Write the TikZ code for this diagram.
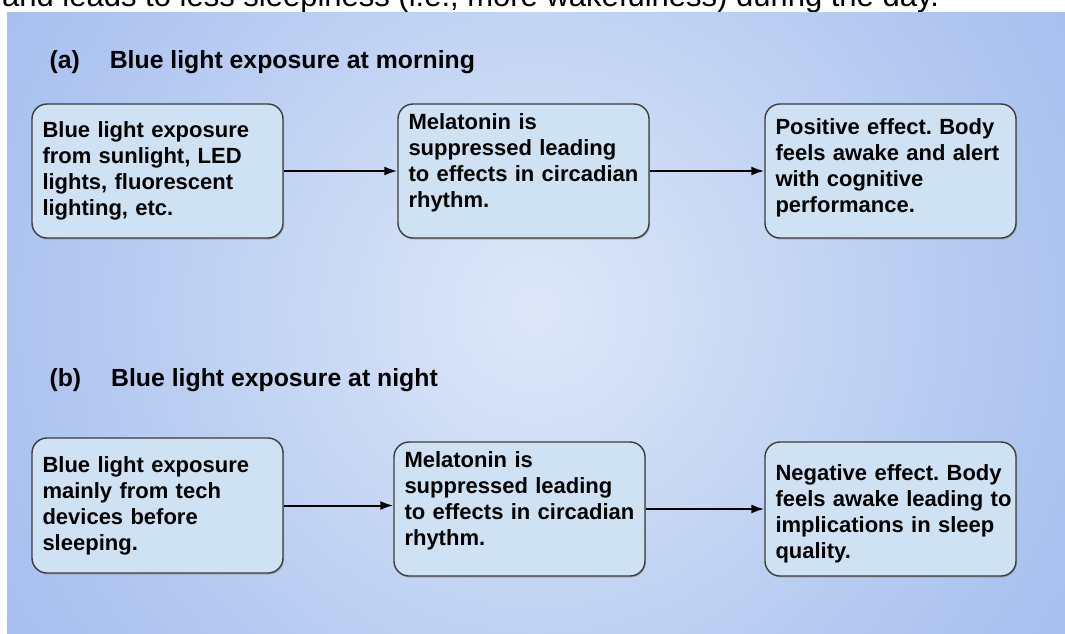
\documentclass[tikz,border=0pt]{standalone}
\usepackage{fontspec}
\setmainfont{Liberation Sans}
\usepackage{xcolor}
\usetikzlibrary{arrows.meta, shadows}

\definecolor{panelEdge}{HTML}{7DA1E6}
\definecolor{panelSide}{HTML}{8EAFEA}
\definecolor{panelMid}{HTML}{ABC3EF}
\definecolor{panelCentre}{HTML}{DDE7F8}
\definecolor{boxFill}{HTML}{CFE2F3}
\definecolor{boxLine}{HTML}{3C3C3C}

\pgfdeclareradialshading{panelglow}{\pgfpoint{0bp}{0bp}}{color(0bp)=(panelCentre); color(22bp)=(panelMid); color(40bp)=(panelSide); color(50bp)=(panelEdge)}

\begin{document}
\frenchspacing
\begin{tikzpicture}[x=1pt, y=-1pt, >={Latex[length=13pt,width=9pt]},
    flowbox/.style={draw=boxLine, line width=1.4pt, fill=boxFill, rounded corners=15pt,
        text width=230pt, inner xsep=10.5pt, minimum height=134pt, align=left,
        font=\bfseries\fontsize{22}{26}\selectfont,
        drop shadow={shadow xshift=1pt, shadow yshift=-1.5pt, opacity=0.45}},
    heading/.style={anchor=base west, font=\bfseries\fontsize{24.8}{29}\selectfont},
    flow/.style={->, line width=2pt}]
    \useasboundingbox (0,0) rectangle (1065,633);
    \clip (0,0) rectangle (1065,633);

    % Cut-off line above the panel
    \node[anchor=base west, inner sep=0pt, font=\fontsize{31}{36}\selectfont] (leadin) at (2,6)
        {and leads to less sleepiness (i.e., more wakefulness) during the day.};

    % Background panel
    \begin{scope}
        \clip (7,12) rectangle (1065,633);
        \shade[shading=panelglow] (-79,-305) rectangle (1151,925);
    \end{scope}

    % (a) morning
    \node[heading] (headMorning) at (46,68) {(a)\hspace{30pt}Blue light exposure at morning};
    \node[flowbox] (morningSource) at (157.5,171)
        {Blue light exposure\\ from sunlight, LED\\ lights, fluorescent\\ lighting, etc.};
    \node[flowbox] (morningMelatonin) at (523.5,171)
        {Melatonin is\\ suppressed leading\\ to effects in circadian\\ rhythm.\rule[-21pt]{0pt}{21pt}};
    \node[flowbox] (morningEffect) at (890.5,171)
        {Positive effect. Body\\ feels awake and alert\\ with cognitive\\ performance.\rule[-10pt]{0pt}{10pt}};
    \draw[flow] (morningSource) -- (morningMelatonin);
    \draw[flow] (morningMelatonin) -- (morningEffect);

    % (b) night
    \node[heading] (headNight) at (46,386) {(b)\hspace{30pt}Blue light exposure at night};
    \node[flowbox, minimum height=135pt] (nightSource) at (157.5,505.5)
        {Blue light exposure\\ mainly from tech\\ devices before\\ sleeping.};
    \node[flowbox] (nightMelatonin) at (519.5,509)
        {Melatonin is\\ suppressed leading\\ to effects in circadian\\ rhythm.\rule[-21pt]{0pt}{21pt}};
    \node[flowbox] (nightEffect) at (890.5,509)
        {\rule{0pt}{25pt}Negative effect. Body\\ \mbox{feels awake leading to}\\ implications in sleep\\ quality.};
    \draw[flow] (nightSource.east) -- (nightSource.east -| nightMelatonin.west);
    \draw[flow] (nightMelatonin) -- (nightEffect);
\end{tikzpicture}
\end{document}
